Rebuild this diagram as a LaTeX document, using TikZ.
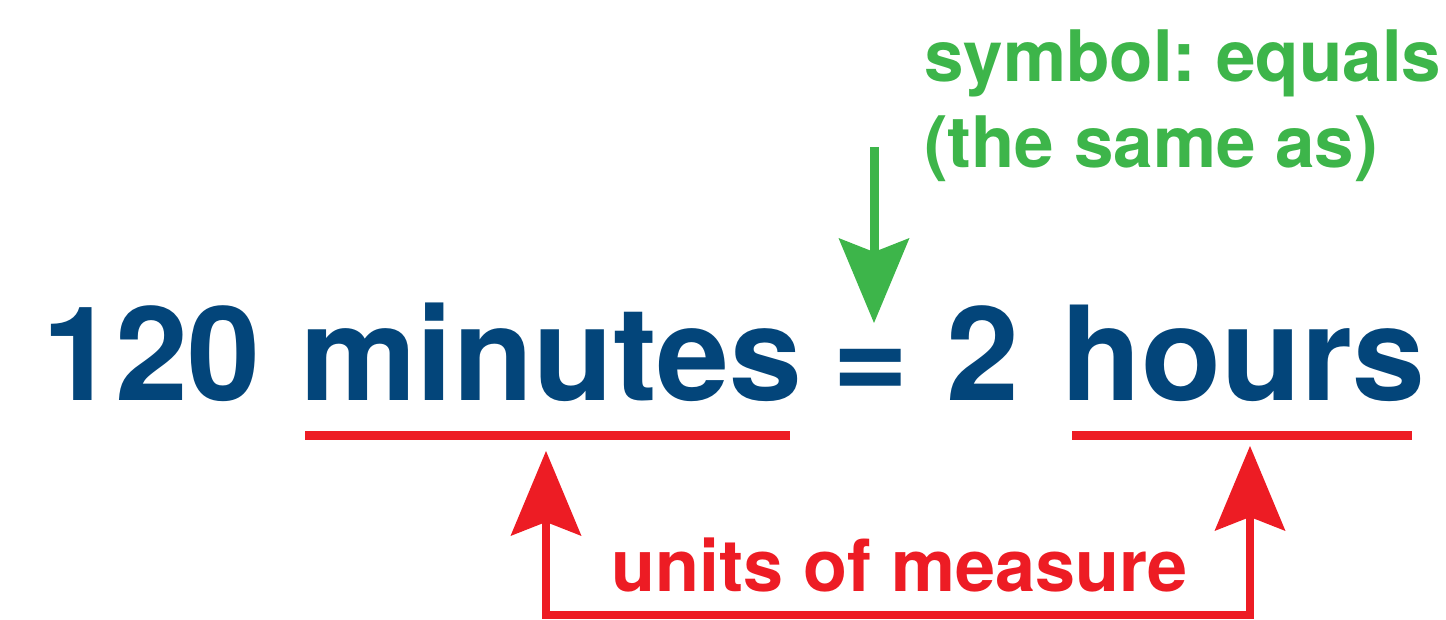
\documentclass[tikz,border=0pt]{standalone}
\usepackage{fontspec}
\setmainfont{TeX Gyre Heros}
\usetikzlibrary{arrows.meta,positioning}
\definecolor{eqblue}{RGB}{3,69,122}
\definecolor{eqgreen}{RGB}{61,181,74}
\definecolor{eqred}{RGB}{237,28,36}
\tikzset{
  bighead/.tip={Stealth[length=85pt,width=71pt,inset=14pt,line width=0pt]},
  bigword/.style={inner sep=0pt, anchor=base west, text=eqblue,
    font=\fontsize{131}{131}\selectfont\bfseries},
  note/.style={inner sep=0pt, anchor=base west, align=left,
    font=\fontsize{72}{86}\selectfont\bfseries\frenchspacing},
  underline/.style={draw=eqred, line width=9pt},
}
\begin{document}
\frenchspacing
\begin{tikzpicture}[x=1pt,y=-1pt]
  \useasboundingbox (0,0) rectangle (1446,620);

  %%% equation
  \node[bigword] (num) at (42,400) {120};
  \node[bigword] (minutes) at (300,400) {minutes};
  \node[bigword] (equals) at (832,400) {=};
  \node[bigword] (two) at (946,400) {2};
  \node[bigword] (hours) at (1061,400) {hours};

  \draw[underline] (305,435) -- (790,435);
  \draw[underline] (1072,435) -- (1412,435);

  %%% symbol note
  \node[note, text=eqgreen, font=\fontsize{71}{86}\selectfont\bfseries\frenchspacing]
    (symbol) at (924,168) {symbol: equals\\(the same as)};
  \coordinate (symtop) at (874,147);
  \coordinate (symtip) at (874,323);
  \draw[eqgreen, line width=9pt, -bighead] (symtop) -- (symtip);

  %%% units note
  \node[note, text=eqred] (units) at (611,591) {units of measure};
  \coordinate (mintip) at (546,451);
  \coordinate (hrstip) at (1250,446);
  \coordinate (cornerL) at (546,615);
  \coordinate (cornerR) at (1250,615);
  \draw[eqred, line width=8pt, bighead-bighead]
    (mintip) -- (cornerL) -- (cornerR) -- (hrstip);
\end{tikzpicture}
\end{document}
